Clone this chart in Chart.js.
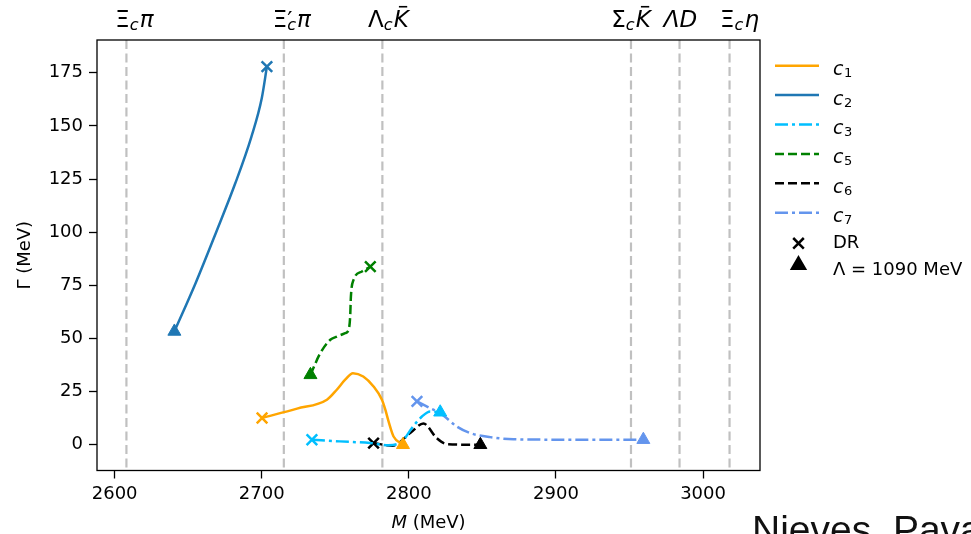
<!DOCTYPE html>
<html>
<head>
<meta charset="utf-8">
<script src="https://cdn.jsdelivr.net/npm/chart.js@4.4.1/dist/chart.umd.min.js"></script>
<style>
  html, body { margin: 0; padding: 0; background: #fff; overflow: hidden; }
  #wrap { position: relative; width: 971px; height: 534px; }
  #credit { position: absolute; left: 752px; top: 510px; font: 39px "Liberation Sans", Arial, sans-serif;
            line-height: 39px; white-space: nowrap; color: #111; }
</style>
</head>
<body>
<div id="wrap">
  <canvas id="myChart" width="971" height="534"></canvas>
  <div id="credit">Nieves, Pavao</div>
</div>
<script>
//ticks
const mevTicks = [2600, 2700, 2800, 2900, 3000];
const gammaTicks = [0, 25, 50, 75, 100, 125, 150, 175];

//thresholds (MeV) and their labels
const thresholdMeV = [2608, 2715, 2782, 2951, 2984, 3018];
const thresholdLabels = [
  [{t: "Ξ"}, {sub: "c"}, {t: "π", it: true}],
  [{t: "Ξ"}, {sup: "′", sub: "c"}, {t: "π", it: true}],
  [{t: "Λ"}, {sub: "c"}, {t: "K", it: true, bar: true}],
  [{t: "Σ"}, {sub: "c"}, {t: "K", it: true, bar: true}],
  [{t: "Λ", it: true}, {t: "D", it: true}],
  [{t: "Ξ"}, {sub: "c"}, {t: "η", it: true}],
];
const labelShift = [8, 8, 6, 0, 1, 10];

//pole trajectories: M (MeV) and Gamma (MeV)
const c1M = [2700.2, 2724, 2744.3, 2751, 2756.7, 2762, 2769, 2776, 2781.7, 2784, 2786.2, 2789.6, 2796];
const c1G = [12.6, 17, 21.2, 25.9, 30.6, 33.7, 32.1, 27.4, 21.2, 16.5, 11, 3.9, 0];
const c2M = [2640.6, 2655, 2669, 2682, 2693, 2700, 2703.5];
const c2G = [53.3, 76, 100, 123, 145, 163, 177.9];
const c3M = [2734.1, 2753, 2773.7, 2786, 2792, 2796.4, 2802.1, 2808.9, 2814.5, 2821.3];
const c3G = [2.35, 1.6, 0.8, -0.2, 0.3, 2.35, 7.9, 13.3, 15.7, 15.3];
const c5M = [2733.1, 2739.8, 2746.6, 2751.1, 2756.7, 2759, 2760.1, 2760.6, 2762.4, 2768.1, 2773.8];
const c5G = [32.9, 43.1, 49.4, 50.9, 52.5, 54, 60.3, 69.7, 77.6, 81.5, 83.8];
const c6M = [2776, 2789, 2800.9, 2809.9, 2819, 2826, 2848.6];
const c6G = [0.8, -0.4, 5.5, 10, 3.1, 0.3, 0];
const c7M = [2805.5, 2814.5, 2821.3, 2832.6, 2841.7, 2855.3, 2871, 2910, 2959.4];
const c7G = [20.4, 17.2, 14.9, 8.6, 5.5, 3.6, 2.6, 2.4, 2.4];

const DR = "crossRot";
const LAM = "triangle";

const toPoints = (m, g) => m.map((v, i) => ({x: v, y: g[i]}));

const makeSet = (label, m, g, color, dash, start, end) => ({
  label: label,
  data: toPoints(m, g),
  borderColor: color,
  backgroundColor: color,
  borderWidth: 2.5,
  borderDash: dash,
  fill: false,
  cubicInterpolationMode: "monotone",
  pointBackgroundColor: color,
  pointBorderColor: color,
  pointStyle: (c) => (c.dataIndex === 0 ? start : end),
  pointRadius: (c) => (c.dataIndex === 0 || c.dataIndex === m.length - 1 ? 7.5 : 0),
  pointBorderWidth: (c) => ((c.dataIndex === 0 ? start : end) === DR ? 2.5 : 1),
});

const datasets = [
  makeSet("c1", c1M, c1G, "#ffa500", [], DR, LAM),
  makeSet("c2", c2M, c2G, "#1f77b4", [], LAM, DR),
  makeSet("c3", c3M, c3G, "#00bfff", [13, 4, 3, 4], DR, LAM),
  makeSet("c5", c5M, c5G, "#008000", [9, 4], LAM, DR),
  makeSet("c6", c6M, c6G, "#000000", [9, 4], DR, LAM),
  makeSet("c7", c7M, c7G, "#6495ed", [13, 4, 3, 4], DR, LAM),
];

const FONT = '"DejaVu Sans", sans-serif';

//draws a little math label: parts with sub/superscripts, centered at cx
const drawMath = (c, parts, cx, base, size) => {
  const small = size * 0.7;
  const widths = parts.map((p) => {
    if (p.t) {
      c.font = (p.it ? "italic " : "") + size + "px " + FONT;
      return c.measureText(p.t).width;
    }
    c.font = "italic " + small + "px " + FONT;
    let w = c.measureText(p.sub || "").width;
    c.font = size + "px " + FONT;
    return Math.max(w, c.measureText(p.sup || "").width) + 1;
  });
  let x = cx - widths.reduce((a, b) => a + b, 0) / 2;
  c.textAlign = "left";
  c.textBaseline = "alphabetic";
  parts.forEach((p, i) => {
    if (p.t) {
      c.font = (p.it ? "italic " : "") + size + "px " + FONT;
      c.fillText(p.t, x, base);
      if (p.bar) {
        c.lineWidth = 1.6;
        c.setLineDash([]);
        c.beginPath();
        c.moveTo(x + widths[i] * 0.35, base - size * 0.729 - 3.5);
        c.lineTo(x + widths[i] * 0.9, base - size * 0.729 - 3.5);
        c.stroke();
      }
    } else {
      if (p.sub) {
        c.font = "italic " + small + "px " + FONT;
        c.fillText(p.sub, x, base + 2.5);
      }
      if (p.sup) {
        c.font = size + "px " + FONT;
        c.fillText(p.sup, x, base + 1);
      }
    }
    x += widths[i];
  });
};

const decor = {
  id: "decor",
  beforeDatasetsDraw(chart) {
    const c = chart.ctx;
    const a = chart.chartArea;
    const xs = chart.scales.x;
    c.save();
    c.strokeStyle = "#c0c0c0";
    c.lineWidth = 2.2;
    c.setLineDash([9, 4.5]);
    thresholdMeV.forEach((v) => {
      const px = xs.getPixelForValue(v);
      c.beginPath();
      c.moveTo(px, a.top);
      c.lineTo(px, a.bottom);
      c.stroke();
    });
    c.restore();
  },
  afterDraw(chart) {
    const c = chart.ctx;
    const a = chart.chartArea;
    const xs = chart.scales.x;
    c.save();
    //frame
    c.strokeStyle = "#000";
    c.lineWidth = 1.3;
    c.setLineDash([]);
    c.strokeRect(a.left, a.top, a.right - a.left, a.bottom - a.top);

    //threshold names above the frame
    c.fillStyle = "#000";
    thresholdLabels.forEach((parts, i) => {
      drawMath(c, parts, xs.getPixelForValue(thresholdMeV[i]) + labelShift[i], 27, 23);
    });

    //legend
    const lx = 775, tx = 833, rowH = 29.4;
    chart.data.datasets.forEach((ds, i) => {
      const y = 65.7 + i * rowH;
      c.strokeStyle = ds.borderColor;
      c.lineWidth = 2.5;
      c.setLineDash(ds.borderDash);
      c.beginPath();
      c.moveTo(lx, y);
      c.lineTo(lx + 44, y);
      c.stroke();
      c.setLineDash([]);
      c.fillStyle = "#000";
      c.textAlign = "left";
      c.textBaseline = "alphabetic";
      c.font = "italic 19px " + FONT;
      c.fillText(ds.label[0], tx, y + 9.5);
      const w = c.measureText(ds.label[0]).width;
      c.font = "13px " + FONT;
      c.fillText(ds.label.slice(1), tx + w + 0.5, y + 11.5);
    });
    c.strokeStyle = "#000";
    c.fillStyle = "#000";
    Chart.helpers.drawPoint(c, {pointStyle: DR, radius: 7.5, borderWidth: 2.5}, 798.5, 243.3);
    Chart.helpers.drawPoint(c, {pointStyle: LAM, radius: 7.5, borderWidth: 1}, 798.5, 265);
    c.font = "18px " + FONT;
    c.fillText("DR", tx, 248.3);
    c.fillText("Λ = 1090 MeV", tx, 275);

    //axis titles
    c.font = "italic 18px " + FONT;
    const mw = c.measureText("M").width;
    c.font = "18px " + FONT;
    const rw = c.measureText(" (MeV)").width;
    const x0 = (a.left + a.right) / 2 - (mw + rw) / 2;
    c.font = "italic 18px " + FONT;
    c.fillText("M", x0, 528);
    c.font = "18px " + FONT;
    c.fillText(" (MeV)", x0 + mw, 528);

    c.translate(25, (a.top + a.bottom) / 2);
    c.rotate(-Math.PI / 2);
    c.textAlign = "center";
    c.textBaseline = "middle";
    c.fillText("Γ (MeV)", 0, 0);
    c.restore();
  },
};

const axisCommon = {
  grid: {display: true, drawOnChartArea: false, drawTicks: true, tickLength: 8, tickColor: "#000", tickWidth: 1.3},
  border: {display: false},
};

const ctx = document.getElementById("myChart");
const myChart = new Chart(ctx, {
  type: "line",
  data: {datasets: datasets},
  options: {
    responsive: false,
    animation: false,
    events: [],
    layout: {padding: {top: 40, right: 211, left: 0, bottom: 0}},
    plugins: {legend: {display: false}, tooltip: {enabled: false}},
    scales: {
      x: {
        type: "linear",
        min: 2588,
        max: 3038.7,
        afterBuildTicks: (s) => { s.ticks = mevTicks.map((v) => ({value: v})); },
        afterFit: (s) => { s.height = 63.5; },
        ...axisCommon,
        ticks: {font: {family: "DejaVu Sans", size: 18}, color: "#000", padding: 5, maxRotation: 0, autoSkip: false,
                callback: (v) => String(v)},
      },
      y: {
        type: "linear",
        min: -12.1,
        max: 190.4,
        afterBuildTicks: (s) => { s.ticks = gammaTicks.map((v) => ({value: v})); },
        afterFit: (s) => { s.width = 97; },
        ...axisCommon,
        ticks: {font: {family: "DejaVu Sans", size: 18}, color: "#000", padding: 6, autoSkip: false,
                callback: (v) => String(v)},
      },
    },
  },
  plugins: [decor],
});
</script>
</body>
</html>
